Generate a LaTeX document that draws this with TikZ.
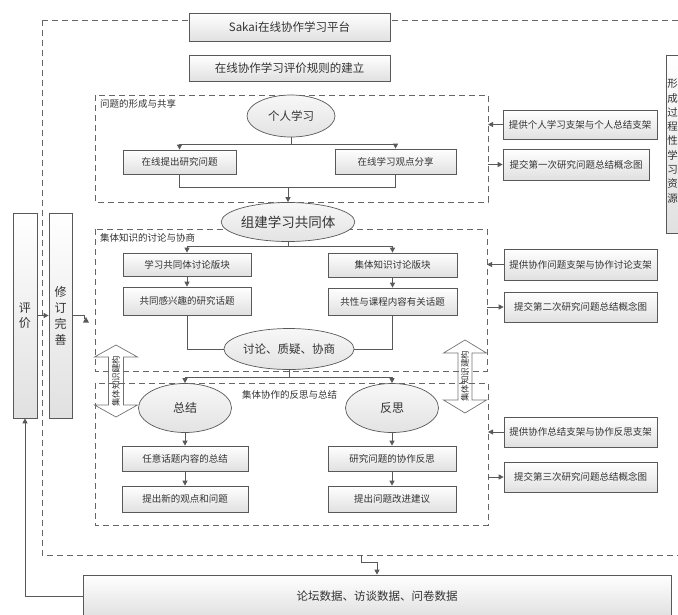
\documentclass[tikz,border=0pt]{standalone}
\usepackage{fontspec}
\newfontfamily\cjk{Noto Sans CJK SC}
\usetikzlibrary{arrows.meta,shapes.geometric,shadows}
\begin{document}
\begin{tikzpicture}[x=1pt,y=-1pt,
 ln/.style={draw=black!65, line width=0.8pt},
 arr/.style={ln, -{Triangle[length=5pt,width=5pt]}},
 dsh/.style={draw=black!60, line width=0.8pt, dash pattern=on 6pt off 4pt},
 bx/.style={draw=black!65, line width=0.7pt, top color=white, bottom color=black!12, inner sep=0pt,
   font=\cjk\fontsize{9.5}{11}\selectfont, text=black!80,
   drop shadow={shadow xshift=1pt, shadow yshift=-1pt, opacity=0.25}},
 bigbx/.style={bx, font=\cjk\fontsize{11.5}{13}\selectfont},
 ell/.style={ellipse, draw=black!65, line width=0.7pt, top color=black!3, bottom color=black!11,
   inner sep=0pt, font=\cjk\fontsize{11.5}{13}\selectfont, text=black!80},
 lbl/.style={font=\cjk\fontsize{9.5}{11}\selectfont, text=black!80, inner sep=0pt},
 dbl/.style={draw=black!55, line width=0.7pt},
 dtxt/.style={font=\cjk\fontsize{8.5}{10}\selectfont, text=black!80, inner sep=0pt, rotate=90}
]
\useasboundingbox (0,0) rectangle (678,614);
\clip (0,0) rectangle (678,614);

% double block arrows
\path[dbl] (116,345) -- (137.5,357) -- (123.5,357) -- (123.5,405) -- (137.5,405) -- (116,417)
  -- (94.5,405) -- (108.5,405) -- (108.5,357) -- (94.5,357) -- cycle;
\node[dtxt] (k1) at (116,381) {集体知识建构};
\path[dbl] (465,340) -- (486.5,353) -- (472,353) -- (472,400) -- (486.5,400) -- (465,413)
  -- (443.5,400) -- (458,400) -- (458,353) -- (443.5,353) -- cycle;
\node[dtxt] (k2) at (465,376) {集体知识建构};

% dashed frames
\path[dsh] (42,20) rectangle (720,555);
\path[dsh] (95,95) rectangle (488,202);
\path[dsh] (95,229) rectangle (487,371);
\path[dsh] (95,383) rectangle (488,525);
\node[lbl, anchor=west] (l1) at (100,104) {问题的形成与共享};
\node[lbl, anchor=west] (l2) at (100,238) {集体知识的讨论与协商};
\node[lbl, anchor=west] (l3) at (242,395) {集体协作的反思与总结};

% top boxes
\node[bigbx, minimum width=201pt, minimum height=28pt] (sakai) at (289.5,27) {Sakai在线协作学习平台};
\node[bigbx, minimum width=201pt, minimum height=26pt] (rule) at (289.5,68) {在线协作学习评价规则的建立};

% section 1
\node[ell, minimum width=88pt, minimum height=42pt] (e1) at (291,116) {个人学习};
\node[bx, minimum width=113pt, minimum height=24pt] (b11) at (179.5,162) {在线提出研究问题};
\node[bx, minimum width=121pt, minimum height=25pt] (b12) at (395.5,161.5) {在线学习观点分享};
\node[ell, minimum width=107pt, minimum height=39pt, font=\cjk\fontsize{13.5}{15}\selectfont] (e2) at (288,222) {组建学习共同体};

% section 2
\node[bx, minimum width=128pt, minimum height=23pt] (b21) at (187,264.5) {学习共同体讨论版块};
\node[bx, minimum width=129pt, minimum height=24pt] (b22) at (392.5,265) {集体知识讨论版块};
\node[bx, minimum width=128pt, minimum height=28pt] (b23) at (187,301) {共同感兴趣的研究话题};
\node[bx, minimum width=129pt, minimum height=27pt] (b24) at (392.5,301.5) {共性与课程内容有关话题};
\node[ell, minimum width=127pt, minimum height=41pt] (e3) at (289,349) {讨论、质疑、协商};

% section 3
\node[ell, minimum width=93pt, minimum height=49pt, font=\cjk\fontsize{12}{14}\selectfont] (e4) at (185,408) {总结};
\node[ell, minimum width=93pt, minimum height=49pt, font=\cjk\fontsize{12}{14}\selectfont] (e5) at (392,408) {反思};
\node[bx, minimum width=126pt, minimum height=25pt] (b31) at (185,458.5) {任意话题内容的总结};
\node[bx, minimum width=126pt, minimum height=26pt] (b32) at (185,499) {提出新的观点和问题};
\node[bx, minimum width=128pt, minimum height=25pt] (b33) at (392,458.5) {研究问题的协作反思};
\node[bx, minimum width=128pt, minimum height=26pt] (b34) at (392,499) {提出问题改进建议};

% right boxes
\node[bx, minimum width=154pt, minimum height=29pt] (r1) at (580,124.5) {提供个人学习支架与个人总结支架};
\node[bx, minimum width=146pt, minimum height=31pt] (r2) at (576,164.5) {提交第一次研究问题总结概念图};
\node[bx, minimum width=153pt, minimum height=31pt] (r3) at (580.5,264.5) {提供协作问题支架与协作讨论支架};
\node[bx, minimum width=153pt, minimum height=30pt] (r4) at (580.5,307) {提交第二次研究问题总结概念图};
\node[bx, minimum width=153pt, minimum height=30pt] (r5) at (580.5,432) {提供协作总结支架与协作反思支架};
\node[bx, minimum width=153pt, minimum height=30pt] (r6) at (580.5,477) {提交第三次研究问题总结概念图};
\node[bx, minimum width=30pt, minimum height=178pt, align=center] (res) at (681,144) {};
\node[align=center, inner sep=0pt, text=black!80,
  font=\cjk\fontsize{10.5}{14.3}\selectfont] (restxt) at (672.5,141) {形\\成\\过\\程\\性\\学\\习\\资\\源};

% left boxes
\node[bx, minimum width=24pt, minimum height=205pt, align=center,
  font=\cjk\fontsize{12}{15}\selectfont] (eval) at (25,315.5) {评\\价};
\node[bx, minimum width=23pt, minimum height=205pt, align=center,
  font=\cjk\fontsize{12}{16}\selectfont] (rev) at (60.5,315.5) {修\\订\\完\\善};

% bottom box
\node[bigbx, minimum width=588pt, minimum height=42pt] (data) at (377,596) {论坛数据、访谈数据、问卷数据};

% connectors section 1
\coordinate (j1) at (291,144);
\draw[ln] (e1.south) -- (j1);
\draw[arr] (j1) -| (b11.north);
\draw[arr] (j1) -| (b12.north);
\coordinate (j2) at (288,187);
\draw[ln] (b11.south) |- (j2);
\draw[ln] (b12.south) |- (j2);
\draw[arr] (j2) -- (e2.north);

% section 2
\coordinate (j3) at (288,246);
\draw[ln] (e2.south) -- (j3);
\draw[arr] (j3) -| (b21.north);
\draw[arr] (j3) -| (b22.north);
\draw[arr] (b21) -- (b23);
\draw[arr] (b22) -- (b24);
\draw[ln] (b23.south) |- (e3.west);
\draw[ln] (b24.south) |- (e3.east);

% section 3
\coordinate (j4) at (289,377);
\draw[ln] (e3.south) -- (j4);
\draw[arr] (j4) -| (e4.north);
\draw[arr] (j4) -| (e5.north);
\draw[arr] (e4) -- (b31);
\draw[arr] (b31) -- (b32);
\draw[arr] (e5) -- (b33);
\draw[arr] (b33) -- (b34);

% right side connectors
\coordinate (p1) at (488,124.5);
\coordinate (p2) at (488,164.5);
\coordinate (p3) at (487,264.5);
\coordinate (p4) at (487,307);
\coordinate (p5) at (488,432);
\coordinate (p6) at (488,477);
\draw[arr] (r1.west) -- (p1);
\draw[arr] (p2) -- (r2.west);
\draw[arr] (r3.west) -- (p3);
\draw[arr] (p4) -- (r4.west);
\draw[arr] (r5.west) -- (p5);
\draw[arr] (p6) -- (r6.west);

% left connectors
\draw[arr] (eval) -- (rev);
\coordinate (q1) at (84,315.5);
\draw[ln] (rev.east) -- (q1) -- ++(0,3);
\fill[black!65] (86,317) -- (89,322.5) -- (83,322.5) -- cycle;
\draw[arr] (data.west) -| (eval.south);
\coordinate (o1) at (361,555);
\draw[arr] (o1) -- ++(0,7) -| (data.north);
\end{tikzpicture}
\end{document}
